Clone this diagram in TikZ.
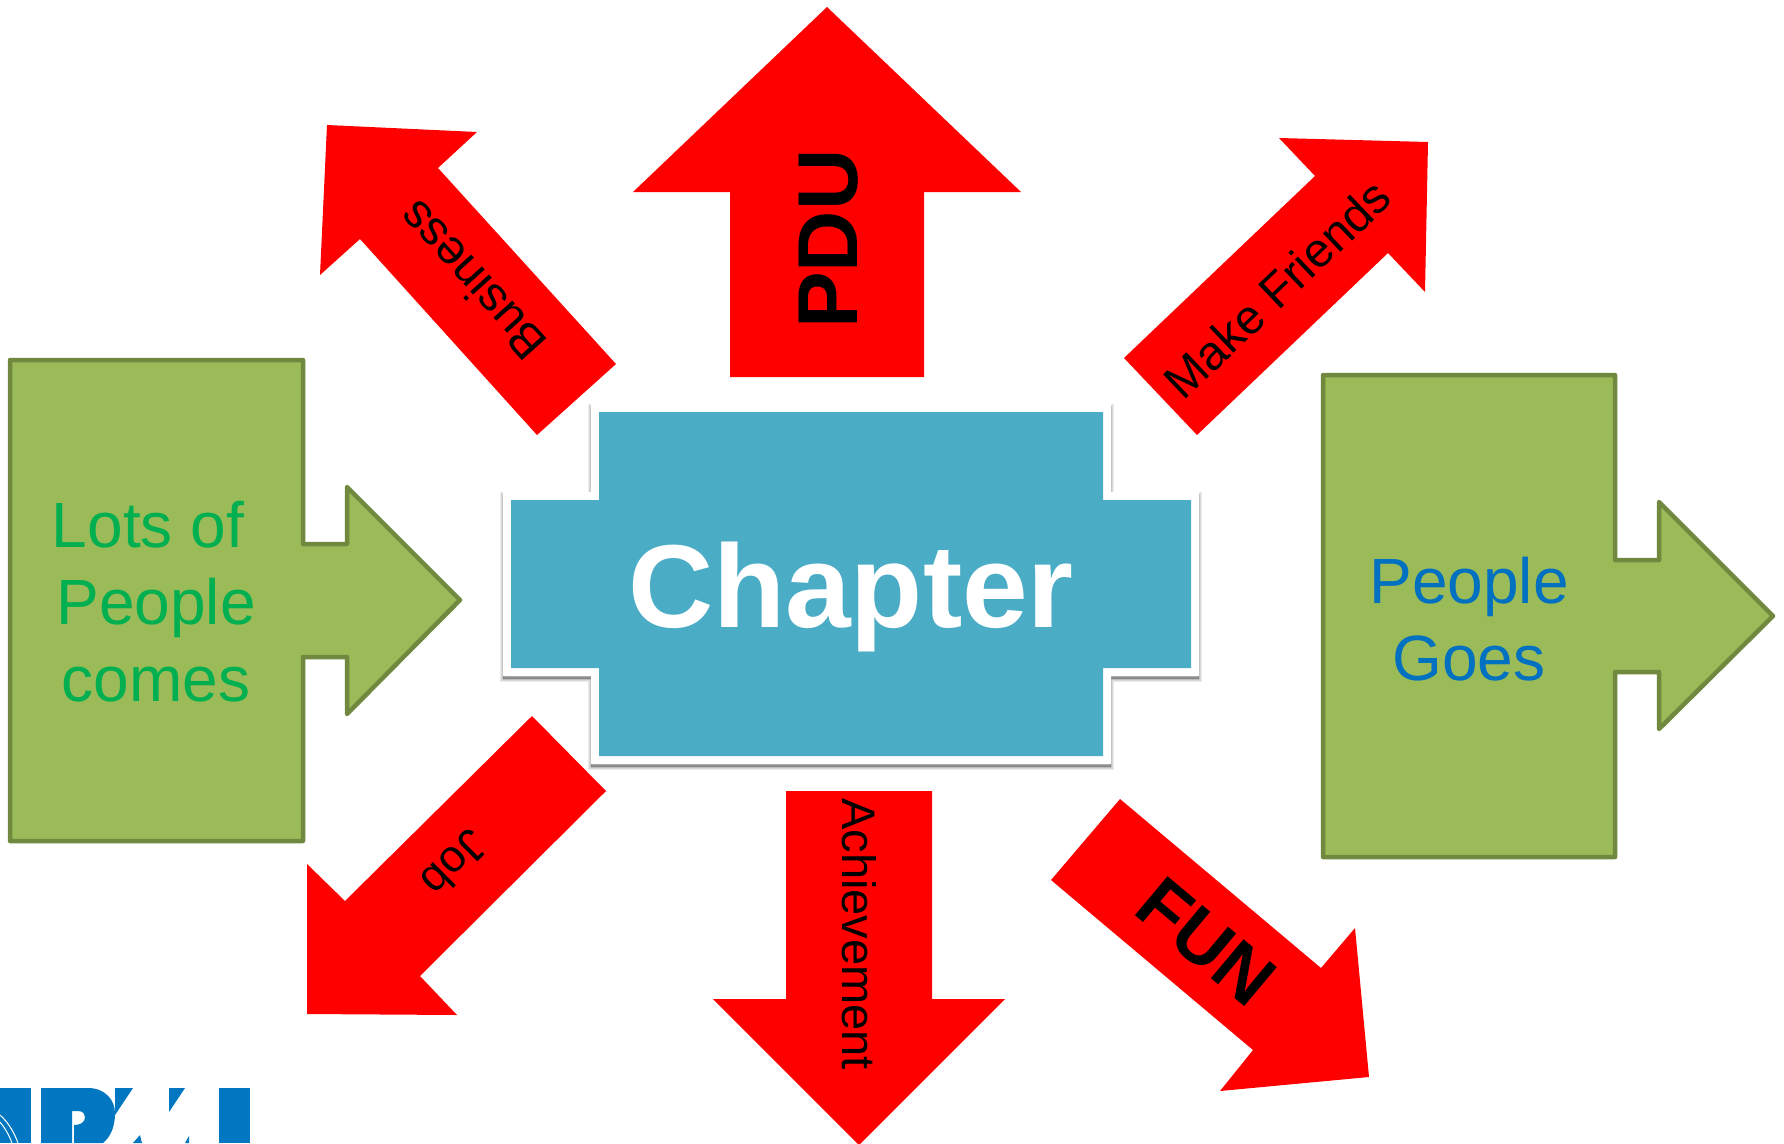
\documentclass[tikz,border=0pt]{standalone}
\usepackage{fontspec}
\setmainfont{Liberation Sans}
\definecolor{arrowgreen}{HTML}{9BBB59}
\definecolor{arrowedge}{HTML}{71893F}
\definecolor{lotsgreen}{HTML}{00B050}
\definecolor{goesblue}{HTML}{0070C0}
\definecolor{chapterteal}{HTML}{4BACC6}
\definecolor{logoblue}{HTML}{0077C0}
\newcommand{\crossouter}{(591,404) -- (1111,404) -- (1111,492) -- (1199,492) -- (1199,676) -- (1111,676) -- (1111,764) -- (591,764) -- (591,676) -- (503,676) -- (503,492) -- (591,492) -- cycle}
\tikzset{
	redarrow/.style={fill=red,draw=none},
	greenarrow/.style={fill=arrowgreen,draw=arrowedge,line width=4.5,line join=round},
	arrowtext/.style={inner sep=0,outer sep=0,text=black},
	boxtext/.style={inner sep=0,outer sep=0,align=center,font=\fontsize{64}{77}\selectfont},
	logopart/.style={fill=logoblue,draw=none}
}

\begin{document}
\begin{tikzpicture}[x=1pt,y=-1pt]
	\clip (0,0) rectangle (1784,1143);
	\foreach \w in {6,4,2}
		\fill[black,opacity=0.08] [draw=black,line width=\w] [shift={(0,3)}] \crossouter;
	\fill[black,opacity=0.15] [shift={(0,3)}] \crossouter;
	\fill[white] \crossouter;
	\fill[chapterteal] (599,412) -- (1103,412) -- (1103,500) -- (1191,500) -- (1191,668) -- (1103,668) -- (1103,756) -- (599,756) -- (599,668) -- (511,668) -- (511,500) -- (599,500) -- cycle;
	\node[inner sep=0,outer sep=0,text=white,font=\fontsize{118}{118}\selectfont\bfseries] (chapter) at (851,597) {Chapter};

	\draw[greenarrow] (10,360) -- (303,360) -- (303,544) -- (347,544) -- (347,487) -- (460,600) -- (347,714) -- (347,657) -- (303,657) -- (303,841) -- (10,841) -- cycle;
	\node[boxtext,text=lotsgreen] (lots) at (156,602) {Lots of\kern16pt\\People\\comes};
	\draw[greenarrow] (1323,375) -- (1615,375) -- (1615,560) -- (1659,560) -- (1659,502) -- (1773,616) -- (1659,729) -- (1659,672) -- (1615,672) -- (1615,857) -- (1323,857) -- cycle;
	\node[boxtext,text=goesblue] (goes) at (1469,619) {People\\Goes};

	\fill[redarrow] (827,7) -- (1021,192) -- (924,192) -- (924,377) -- (730,377) -- (730,192) -- (633,192) -- cycle;
	\node[arrowtext,rotate=90,font=\fontsize{85}{85}\selectfont\bfseries] (pdu) at (829,239) {PDU};
	\fill[redarrow] (327,125) -- (477,132) -- (438,168) -- (616,364) -- (537,435) -- (360,239) -- (320,275) -- cycle;
	\node[arrowtext,rotate=132,font=\fontsize{48}{48}\selectfont] (business) at (472,281) {Business};
	\fill[redarrow] (1428,142) -- (1279,138) -- (1315,176) -- (1124,358) -- (1197,435) -- (1388,253) -- (1425,292) -- cycle;
	\node[arrowtext,rotate=43.6,font=\fontsize{48}{48}\selectfont] (friends) at (1277,289) {Make Friends};
	\fill[redarrow] (307,1014) -- (307,864) -- (345,901) -- (532,716) -- (606,791) -- (420,976) -- (457,1015) -- cycle;
	\node[arrowtext,rotate=225,font=\fontsize{45}{45}\selectfont] (job) at (455,864) {Job};
	\fill[redarrow] (786,791) -- (932,791) -- (932,999) -- (1005,999) -- (859,1145) -- (713,999) -- (786,999) -- cycle;
	\node[arrowtext,rotate=-90,font=\fontsize{47}{47}\selectfont] (achievement) at (859,934) {Achievement};
	\fill[redarrow] (1369,1077) -- (1220,1091) -- (1253,1050) -- (1051,880) -- (1120,799) -- (1321,968) -- (1355,928) -- cycle;
	\node[arrowtext,rotate=-40,font=\fontsize{74}{74}\selectfont\bfseries] (fun) at (1206,942) {FUN};

	\fill[logopart] (0,1088) -- (31,1088) -- (31,1143) -- (0,1143) -- cycle;
	\draw[white,line width=1] (0,1115) .. controls (8,1122) and (14,1132) .. (18,1143);
	\draw[white,line width=1] (0,1122) .. controls (5,1128) and (9,1135) .. (12,1143);
	\fill[logopart,even odd rule] (41,1088) -- (88,1088) .. controls (105,1088) and (115,1100) .. (115,1113) .. controls (115,1128) and (110,1137) .. (103,1143) -- (41,1143) -- cycle
		(72,1111) -- (78,1111) .. controls (83,1111) and (85,1114) .. (85,1117) .. controls (85,1122) and (81,1125) .. (74,1125) -- (74,1143) -- (72,1143) -- cycle;
	\fill[logopart] (115,1088) -- (133,1088) -- (115,1115) -- cycle;
	\fill[logopart] (169,1088) -- (185,1088) -- (169,1112) -- cycle;
	\fill[logopart] (133,1143) -- (140,1135) -- (142,1143) -- cycle;
	\fill[logopart] (185,1143) -- (189,1136) -- (189,1143) -- cycle;
	\fill[logopart] (219,1088) -- (250,1088) -- (250,1143) -- (219,1143) -- cycle;
\end{tikzpicture}
\end{document}
